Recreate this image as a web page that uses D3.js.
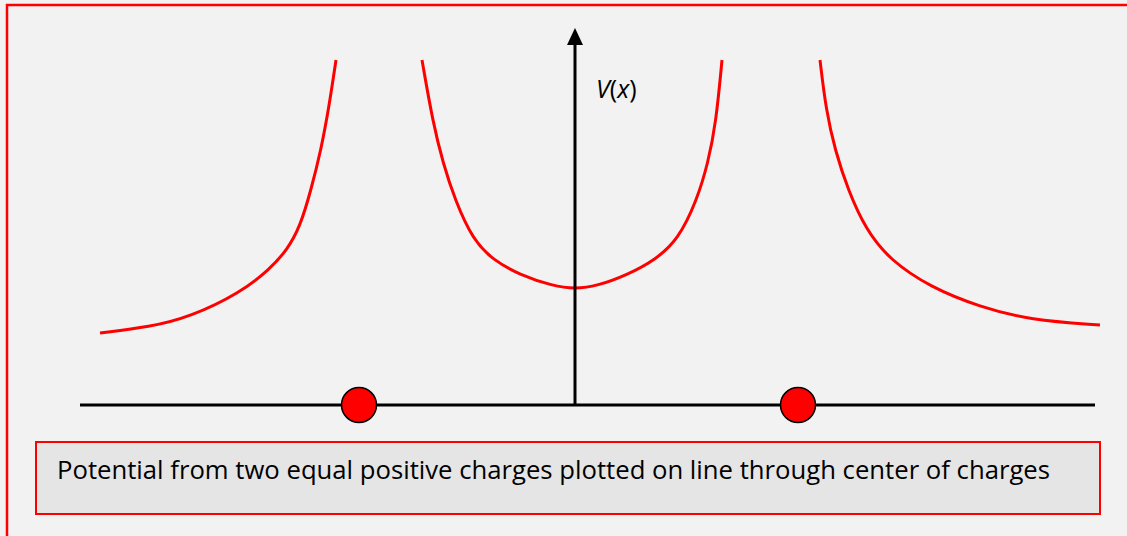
<!DOCTYPE html>
<html lang="en">
<head>
    <meta charset="UTF-8">
    <title>Potential from two equal positive charges</title>
    <script src="https://d3js.org/d3.v7.min.js"></script>
    <style>
        html, body { margin: 0; padding: 0; background: #f2f2f2; overflow: hidden; }
        svg { display: block; }
    </style>
</head>
<body>
    <div id="chart"></div>
    <script>
        const width = 1127;
        const height = 536;

        // charge positions along the axis (arbitrary units)
        const charges = [-2.16, 2.23];

        // V(x) curve branches: [x, V]
        const leftOuter = [
            [-4.75, 1.44], [-4.25, 1.56], [-3.85, 1.76], [-3.35, 2.24], [-3.05, 2.72],
            [-2.88, 3.1], [-2.75, 3.56], [-2.64, 4.3], [-2.54, 5.1], [-2.46, 5.96], [-2.39, 6.9]
        ];
        const middle = [
            [-1.53, 6.9], [-1.42, 5.64], [-1.32, 4.84], [-1.2, 4.1], [-1.02, 3.3],
            [-0.82, 2.9], [-0.55, 2.6], [-0.22, 2.38], [0, 2.32], [0.22, 2.38],
            [0.52, 2.6], [0.8, 2.9], [1.03, 3.3], [1.22, 4.1], [1.33, 4.84],
            [1.41, 5.64], [1.47, 6.9]
        ];
        const rightOuter = [
            [2.45, 6.9], [2.51, 5.9], [2.6, 5.1], [2.73, 4.3], [2.91, 3.5],
            [3.15, 2.9], [3.55, 2.36], [4.05, 1.96], [4.55, 1.7], [5.25, 1.6]
        ];

        const caption = "Potential from two equal positive charges plotted on line through center of charges";

        const x = d3.scaleLinear().domain([-4.95, 5.2]).range([80, 1095]);
        const y = d3.scaleLinear().domain([0, 7.5]).range([405, 30]);

        const svg = d3.select("#chart")
            .append("svg")
            .attr("width", width)
            .attr("height", height);

        svg.append("rect")
            .attr("x", 7).attr("y", 5)
            .attr("width", width + 10).attr("height", height + 10)
            .attr("fill", "#f2f2f2")
            .attr("stroke", "#ff0000")
            .attr("stroke-width", 2.5);

        // curves
        const line = d3.line()
            .x(d => x(d[0]))
            .y(d => y(d[1]))
            .curve(d3.curveBasis);

        svg.selectAll("path.branch")
            .data([leftOuter, middle, rightOuter])
            .join("path")
            .attr("class", "branch")
            .attr("d", line)
            .attr("fill", "none")
            .attr("stroke", "#ff0000")
            .attr("stroke-width", 3);

        // axes
        svg.append("line")
            .attr("x1", x(-4.95)).attr("x2", x(5.2))
            .attr("y1", y(0)).attr("y2", y(0))
            .attr("stroke", "#000").attr("stroke-width", 3);

        svg.append("line")
            .attr("x1", x(0)).attr("x2", x(0))
            .attr("y1", y(0)).attr("y2", y(7.2))
            .attr("stroke", "#000").attr("stroke-width", 3);

        svg.append("path")
            .attr("d", `M${x(0)},${y(7.54)} L${x(0) - 8},${y(7.2)} L${x(0) + 8},${y(7.2)} Z`)
            .attr("fill", "#000");

        const vLabel = svg.append("text")
            .attr("x", 596).attr("y", 98)
            .attr("font-family", "'Open Sans', 'Noto Sans', sans-serif")
            .attr("font-size", 25)
            .attr("fill", "#000");
        vLabel.append("tspan").attr("font-style", "italic").text("V");
        vLabel.append("tspan").text("(");
        vLabel.append("tspan").attr("font-style", "italic").text("x");
        vLabel.append("tspan").text(")");

        // charges
        svg.selectAll("circle.charge")
            .data(charges)
            .join("circle")
            .attr("class", "charge")
            .attr("cx", d => x(d))
            .attr("cy", y(0))
            .attr("r", 17.5)
            .attr("fill", "#ff0000")
            .attr("stroke", "#000")
            .attr("stroke-width", 1.5);

        // caption box
        svg.append("rect")
            .attr("x", 36).attr("y", 442)
            .attr("width", 1064).attr("height", 72)
            .attr("fill", "#e5e5e5")
            .attr("stroke", "#ff0000")
            .attr("stroke-width", 2);

        svg.append("text")
            .attr("x", 57).attr("y", 479)
            .attr("font-family", "'Open Sans', 'Noto Sans', sans-serif")
            .attr("font-size", 25)
            .attr("fill", "#000")
            .attr("textLength", 993)
            .attr("lengthAdjust", "spacingAndGlyphs")
            .text(caption);
    </script>
</body>
</html>
